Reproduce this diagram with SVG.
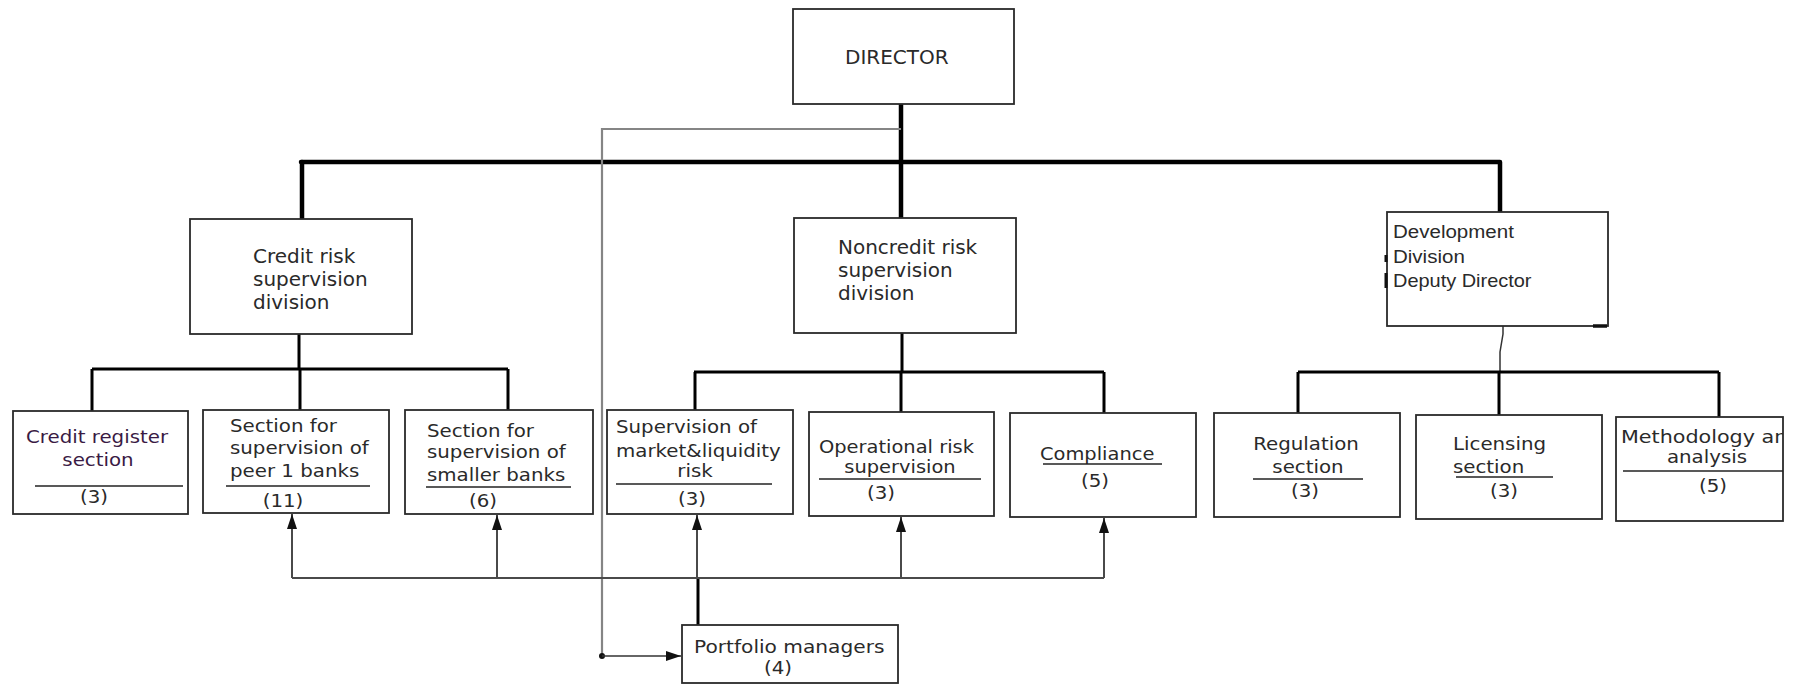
<svg xmlns="http://www.w3.org/2000/svg" width="1794" height="685" viewBox="0 0 1794 685">
  <style>
    .box { fill: #fff; stroke: #2a2a2a; stroke-width: 1.8; }
    .t20 { font-family: "DejaVu Sans", Verdana, sans-serif; font-size: 20px; fill: #2a2a2a; }
    .t18 { font-family: "DejaVu Sans", Verdana, sans-serif; font-size: 18px; fill: #2a2a2a; }
    .ta { font-family: "Liberation Sans", Arial, sans-serif; font-size: 19px; fill: #2a2a2a; }
    .mid { text-anchor: middle; }
    .ul { stroke: #222; stroke-width: 1.6; }
    .thick { fill: none; stroke: #000; stroke-width: 4.5; stroke-linecap: round; stroke-linejoin: round; }
    .mid3 { fill: none; stroke: #000; stroke-width: 3; }
    .thin { fill: none; stroke: #333; stroke-width: 1.5; }
    .grey { fill: none; stroke: #858585; stroke-width: 2.2; }
    .feed { fill: none; stroke: #4a4a4a; stroke-width: 2; }
  </style>
  <defs>
    <marker id="arrow" markerUnits="userSpaceOnUse" markerWidth="16" markerHeight="10" refX="15" refY="5" orient="auto">
      <path d="M0,0 L15,5 L0,10 Z" fill="#111"/>
    </marker>
    <clipPath id="clipMeth">
      <rect x="1616" y="417" width="167" height="104"/>
    </clipPath>
  </defs>
  <rect width="1794" height="685" fill="#fff"/>

  <!-- connectors -->
  <g id="connectors">
    <!-- director to divisions -->
    <path class="thick" d="M901,104 V218"/>
    <path class="thick" d="M301,162 H1500 V212"/>
    <path class="thick" d="M302,162 V219"/>
    <!-- director to portfolio managers -->
    <path class="grey" d="M901,129 H602 V656"/>
    <circle cx="602" cy="656" r="3" fill="#111"/>
    <path class="thin" d="M602,656 H681" marker-end="url(#arrow)"/>
    <!-- credit risk division -->
    <path class="mid3" d="M299,334 V369 M92,369 H508 M92,369 V411 M300,369 V410 M508,369 V410"/>
    <!-- noncredit risk division -->
    <path class="mid3" d="M902,333 V372 M694,372 H1104 M695,372 V410 M901,372 V412 M1104,372 V413"/>
    <!-- development division -->
    <path class="thin" d="M1503,326 V334 L1500,352 V372"/>
    <path class="mid3" d="M1298,372 H1719 M1298,372 V413 M1499,372 V415 M1719,372 V417"/>
    <!-- portfolio managers to sections -->
    <path class="mid3" d="M698,625 V578"/>
    <path class="feed" d="M292,578 H1104"/>
    <path class="feed" d="M292,578 V514" marker-end="url(#arrow)"/>
    <path class="feed" d="M497,578 V515" marker-end="url(#arrow)"/>
    <path class="feed" d="M697,578 V515" marker-end="url(#arrow)"/>
    <path class="feed" d="M901,578 V517" marker-end="url(#arrow)"/>
    <path class="feed" d="M1104,578 V518" marker-end="url(#arrow)"/>
  </g>

  <g id="director">
    <rect class="box" x="793" y="9" width="221" height="95"/>
    <text class="t20" x="845" y="64">DIRECTOR</text>
  </g>

  <g id="credit-division">
    <rect class="box" x="190" y="219" width="222" height="115"/>
    <text class="t20" x="253" y="263">Credit risk</text>
    <text class="t20" x="253" y="286">supervision</text>
    <text class="t20" x="253" y="309">division</text>
  </g>

  <g id="noncredit-division">
    <rect class="box" x="794" y="218" width="222" height="115"/>
    <text class="t20" x="838" y="254">Noncredit risk</text>
    <text class="t20" x="838" y="277">supervision</text>
    <text class="t20" x="838" y="300">division</text>
  </g>

  <g id="development-division">
    <rect class="box" x="1387" y="212" width="221" height="114"/>
    <path d="M1386,255 V262 M1386,273 V288" stroke="#111" stroke-width="3"/>
    <path d="M1593,326 H1607" stroke="#111" stroke-width="3.5"/>
    <text class="ta" transform="translate(1393 238) scale(1.08 1)">Development</text>
    <text class="ta" transform="translate(1393 263) scale(1.08 1)">Division</text>
    <text class="ta" transform="translate(1393 287) scale(1.05 1)">Deputy Director</text>
  </g>

  <g id="credit-register">
    <rect class="box" x="13" y="411" width="175" height="103"/>
    <text class="t18 mid" style="fill:#3a1a44" transform="translate(97 443) scale(1.1 1)">Credit register</text>
    <text class="t18 mid" style="fill:#3a1a44" transform="translate(98 466) scale(1.1 1)">section</text>
    <path class="ul" d="M35,486 H183"/>
    <text class="t18 mid" transform="translate(94 503) scale(1.1 1)">(3)</text>
  </g>

  <g id="peer1-banks">
    <rect class="box" x="203" y="410" width="186" height="103"/>
    <text class="t18" transform="translate(230 432) scale(1.1 1)">Section for</text>
    <text class="t18" transform="translate(230 454) scale(1.1 1)">supervision of</text>
    <text class="t18" transform="translate(230 477) scale(1.1 1)">peer 1 banks</text>
    <path class="ul" d="M226,486 H370"/>
    <text class="t18 mid" transform="translate(283 507) scale(1.1 1)">(11)</text>
  </g>

  <g id="smaller-banks">
    <rect class="box" x="405" y="410" width="188" height="104"/>
    <text class="t18" transform="translate(427 437) scale(1.1 1)">Section for</text>
    <text class="t18" transform="translate(427 458) scale(1.1 1)">supervision of</text>
    <text class="t18" transform="translate(427 481) scale(1.1 1)">smaller banks</text>
    <path class="ul" d="M426,487 H571"/>
    <text class="t18 mid" transform="translate(483 507) scale(1.1 1)">(6)</text>
  </g>

  <g id="market-liquidity">
    <rect class="box" x="607" y="410" width="186" height="104"/>
    <text class="t18" transform="translate(616 433) scale(1.1 1)">Supervision of</text>
    <text class="t18" transform="translate(616 457) scale(1.1 1)">market&amp;liquidity</text>
    <text class="t18 mid" transform="translate(695 477) scale(1.1 1)">risk</text>
    <path class="ul" d="M616,484 H772"/>
    <text class="t18 mid" transform="translate(692 505) scale(1.1 1)">(3)</text>
  </g>

  <g id="operational-risk">
    <rect class="box" x="809" y="412" width="185" height="104"/>
    <text class="t18" transform="translate(819 453) scale(1.08 1)">Operational risk</text>
    <text class="t18 mid" transform="translate(900 473) scale(1.08 1)">supervision</text>
    <path class="ul" d="M819,479 H981"/>
    <text class="t18 mid" transform="translate(881 499) scale(1.1 1)">(3)</text>
  </g>

  <g id="compliance">
    <rect class="box" x="1010" y="413" width="186" height="104"/>
    <text class="t18" transform="translate(1040 460) scale(1.08 1)">Compliance</text>
    <path class="ul" d="M1043,464 H1162"/>
    <text class="t18 mid" transform="translate(1095 487) scale(1.1 1)">(5)</text>
  </g>

  <g id="regulation">
    <rect class="box" x="1214" y="413" width="186" height="104"/>
    <text class="t18 mid" transform="translate(1306 450) scale(1.1 1)">Regulation</text>
    <text class="t18 mid" transform="translate(1308 473) scale(1.1 1)">section</text>
    <path class="ul" d="M1253,479 H1363"/>
    <text class="t18 mid" transform="translate(1305 497) scale(1.1 1)">(3)</text>
  </g>

  <g id="licensing">
    <rect class="box" x="1416" y="415" width="186" height="104"/>
    <text class="t18" transform="translate(1453 450) scale(1.1 1)">Licensing</text>
    <text class="t18" transform="translate(1453 473) scale(1.1 1)">section</text>
    <path class="ul" d="M1456,477 H1553"/>
    <text class="t18 mid" transform="translate(1504 497) scale(1.1 1)">(3)</text>
  </g>

  <g id="methodology">
    <rect class="box" x="1616" y="417" width="167" height="104"/>
    <g clip-path="url(#clipMeth)">
      <text class="t18" transform="translate(1621 443) scale(1.15 1)">Methodology and</text>
    </g>
    <text class="t18 mid" transform="translate(1707 463) scale(1.1 1)">analysis</text>
    <path class="ul" d="M1623,471 H1783"/>
    <text class="t18 mid" transform="translate(1713 492) scale(1.1 1)">(5)</text>
  </g>

  <g id="portfolio-managers">
    <rect class="box" x="682" y="625" width="216" height="58"/>
    <text class="t18" transform="translate(694 653) scale(1.12 1)">Portfolio managers</text>
    <text class="t18 mid" transform="translate(778 674) scale(1.1 1)">(4)</text>
  </g>
</svg>
